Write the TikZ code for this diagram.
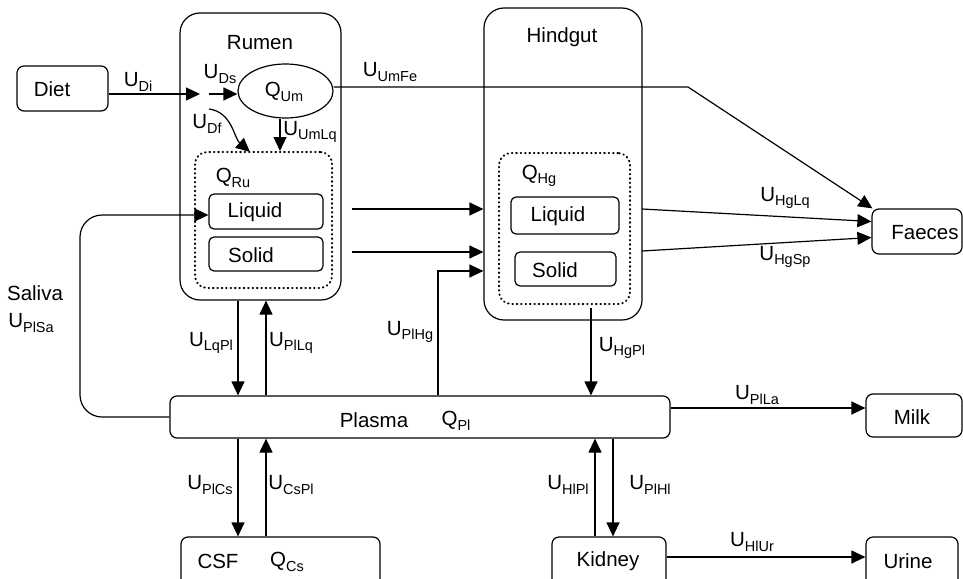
\documentclass[tikz,border=0pt]{standalone}
\usepackage{fontspec}
\setmainfont{Liberation Sans}
\usetikzlibrary{arrows.meta,shapes.geometric}
\newcommand\subl[2]{#1\raisebox{-4.5pt}{\fontsize{14.5}{15}\selectfont #2}}
\tikzset{
  arr/.style={-{Triangle[length=14pt,width=13pt]}},
  box/.style 2 args={draw, rounded corners=7pt, minimum width=#1, minimum height=#2, inner sep=0pt},
  dotbox/.style 2 args={draw, rounded corners=12pt, minimum width=#1, minimum height=#2, inner sep=0pt,
    line width=2pt, line cap=round, dash pattern=on 0.6pt off 3.8pt},
  txt/.style={inner sep=0pt}
}
\begin{document}
\begin{tikzpicture}[x=1pt,y=-1pt,font=\fontsize{20.5}{24}\selectfont,line width=1.2pt]
\useasboundingbox (0,0) rectangle (963,578);
\clip (0,0) rectangle (963,578);

% boxes
\node[box={91pt}{45pt}] (diet) at (62.5,88.5) {};
\node[txt] at (52,89) {Diet};

\node[box={161pt}{287pt}, rounded corners=20pt] (rumen) at (260.5,156.5) {};
\node[txt] at (260,43) {Rumen};
\node[draw, ellipse, minimum width=95pt, minimum height=54pt, inner sep=0pt] (qum) at (285.5,91) {};
\node[txt] at (284,92) {\subl{Q}{Um}};
\node[dotbox={137pt}{136pt}] (qru) at (263.5,220) {};
\node[txt] at (233,178) {\subl{Q}{Ru}};
\node[box={114pt}{35pt}, rounded corners=5pt] (liqR) at (266,211.5) {};
\node[txt] at (255,212) {Liquid};
\node[box={114pt}{34pt}, rounded corners=5pt] (solR) at (266,254) {};
\node[txt] at (251,255) {Solid};

\node[box={158pt}{312pt}, rounded corners=20pt] (hind) at (563,164) {};
\node[txt] at (562,37) {Hindgut};
\node[dotbox={131pt}{151pt}] (qhg) at (564.5,228.5) {};
\node[txt] at (539,176) {\subl{Q}{Hg}};
\node[box={108pt}{37pt}, rounded corners=5pt] (liqH) at (565,215.5) {};
\node[txt] at (558,216) {Liquid};
\node[box={101pt}{34pt}, rounded corners=5pt] (solH) at (565.5,269) {};
\node[txt] at (555,270) {Solid};

\node[box={90pt}{45pt}] (faeces) at (917,231.5) {};
\node[txt] at (925,233) {Faeces};

\node[box={500pt}{42pt}] (plasma) at (420,417) {};
\node[txt] at (374,420) {Plasma};
\node[txt] at (456,421) {\subl{Q}{Pl}};

\node[box={96pt}{43pt}] (milk) at (914,415.5) {};
\node[txt] at (912,417) {Milk};

\node[box={199pt}{63pt}] (csf) at (280.5,568.5) {};
\node[txt] at (218,561) {CSF};
\node[txt] at (287,562) {\subl{Q}{Cs}};

\node[box={114pt}{63pt}] (kidney) at (609,568.5) {};
\node[txt] at (608,561) {Kidney};

\node[box={92pt}{63pt}] (urine) at (912,568.5) {};
\node[txt] at (908,561) {Urine};

% diet into rumen
\coordinate (dA) at (200,94);
\draw[arr] (diet.east|-dA) -- (dA);
\node[txt] at (138,82) {\subl{U}{Di}};
\coordinate (dB) at (209,94);
\draw[arr] (dB) -- (qum.west|-dB);
\node[txt] at (220,74) {\subl{U}{Ds}};
\coordinate (dC) at (209,109);
\coordinate (dD) at (250,152);
\draw[arr] (dC) .. controls (232,112) and (234,138) .. (dD);
\node[txt] at (207,124) {\subl{U}{Df}};
\coordinate (xUm) at (280,0);
\draw[arr] (qum.south-|xUm) -- (qru.north-|xUm);
\node[txt] at (310,132) {\subl{U}{UmLq}};

% UmFe
\coordinate (fA) at (688,87);
\draw[arr] (qum.east|-fA) -- (fA) -- ([xshift=1pt]faeces.north west);
\node[txt] at (390,72) {\subl{U}{UmFe}};

% hindgut to faeces
\coordinate (hA) at (642,209);
\coordinate (hB) at (642,251);
\draw[arr] (hA) -- ([yshift=10pt]faeces.west);
\draw[arr] (hB) -- ([yshift=-6pt]faeces.west);
\node[txt] at (785,198) {\subl{U}{HgLq}};
\node[txt] at (785,257) {\subl{U}{HgSp}};

% rumen to hindgut
\coordinate (rA) at (352,209);
\coordinate (rB) at (352,252);
\draw[arr] (rA) -- (hind.west|-rA);
\draw[arr] (rB) -- (hind.west|-rB);

% plasma to hindgut
\coordinate (pH) at (438,271);
\draw[arr] (plasma.north-|pH) -- (pH) -- (hind.west|-pH);
\node[txt] at (410,332) {\subl{U}{PlHg}};

% saliva
\coordinate (sA) at (80,215);
\draw[arr, rounded corners=22pt] (plasma.west) -| (sA) -- (liqR.west|-sA);
\node[txt] at (35,293) {Saliva};
\node[txt] at (31,323) {\subl{U}{PlSa}};

% rumen <-> plasma, plasma <-> csf
\coordinate (xL) at (238,0);
\coordinate (xR) at (266,0);
\draw[arr] (rumen.south-|xL) -- (plasma.north-|xL);
\draw[arr] (plasma.north-|xR) -- (rumen.south-|xR);
\node[txt] at (211,343) {\subl{U}{LqPl}};
\node[txt] at (291,343) {\subl{U}{PlLq}};
\draw[arr] (plasma.south-|xL) -- (csf.north-|xL);
\draw[arr] (csf.north-|xR) -- (plasma.south-|xR);
\node[txt] at (210,485) {\subl{U}{PlCs}};
\node[txt] at (291,485) {\subl{U}{CsPl}};

% hindgut to plasma
\coordinate (hgp) at (591,308);
\draw[arr] (hgp) -- (plasma.north-|hgp);
\node[txt] at (622,348) {\subl{U}{HgPl}};

% plasma to milk
\coordinate (yLa) at (0,408);
\draw[arr] (plasma.east|-yLa) -- (milk.west|-yLa);
\node[txt] at (757,395) {\subl{U}{PlLa}};

% kidney
\coordinate (xK1) at (595,0);
\coordinate (xK2) at (613,0);
\draw[arr] (kidney.north-|xK1) -- (plasma.south-|xK1);
\draw[arr] (plasma.south-|xK2) -- (kidney.north-|xK2);
\node[txt] at (568,485) {\subl{U}{HlPl}};
\node[txt] at (650,485) {\subl{U}{PlHl}};

\coordinate (yU) at (0,557);
\draw[arr] (kidney.east|-yU) -- (urine.west|-yU);
\node[txt] at (752,542) {\subl{U}{HlUr}};
\end{tikzpicture}
\end{document}
